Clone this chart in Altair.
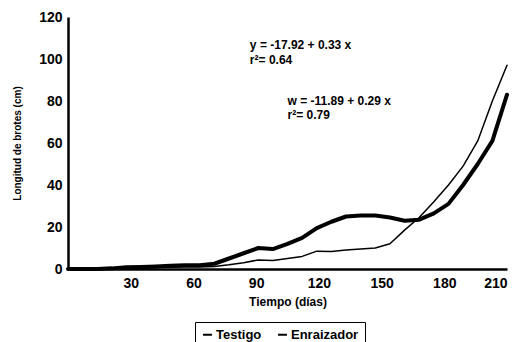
import altair as alt
import pandas as pd

# Sampling days (weekly) and shoot length (cm) for each treatment
dias = [0, 7, 14, 21, 28, 35, 42, 49, 56, 63, 70, 77, 84, 91, 98, 105,
        112, 119, 126, 133, 140, 147, 154, 161, 168, 175, 182, 189, 196, 203, 210]
testigo = [0, 0, 0, 0, 0.3, 0.5, 0.7, 0.8, 1, 1, 1.2, 2, 3, 4.3, 4, 5,
           6, 8.5, 8.3, 9, 9.5, 10, 12, 18.5, 24.5, 32, 40, 49, 61, 80, 97]
enraizador = [0, 0, 0, 0.3, 0.8, 1, 1.2, 1.5, 1.8, 1.8, 2.5, 5, 7.5, 10, 9.5, 12,
              14.8, 19.5, 22.5, 25, 25.5, 25.5, 24.5, 23, 23.5, 26.5, 31, 40, 50, 61, 83]
series = ["Testigo", "Enraizador"]

x_ticks = [30, 60, 90, 120, 150, 180, 210]
y_ticks = [0, 20, 40, 60, 80, 100, 120]

# Regression equations written on the plot
eq_text = ["y = -17.92 + 0.33 x", "r²= 0.64", "w = -11.89 + 0.29 x", "r²= 0.79"]
eq_x = [87, 87, 105, 105]
eq_y = [106.5, 99.5, 80, 73.2]

FONT = "Liberation Sans"
NBSP = "\u00a0" * 14  # keeps the legend box wide on the right

df = pd.DataFrame({
    "dia": dias * 2,
    "longitud": testigo + enraizador,
    "serie": [series[0]] * len(dias) + [series[1]] * len(dias),
})
eq_df = pd.DataFrame({"texto": eq_text, "dia": eq_x, "longitud": eq_y})

x_scale = alt.Scale(domain=[0, 210], nice=False)
y_scale = alt.Scale(domain=[0, 120], nice=False)

lines = alt.Chart(df).mark_line(strokeJoin="round", strokeCap="round").encode(
    x=alt.X("dia:Q", scale=x_scale,
            axis=alt.Axis(title="Tiempo (días)", values=x_ticks, ticks=False,
                          grid=False, labelPadding=7, titlePadding=6)),
    y=alt.Y("longitud:Q", scale=y_scale,
            axis=alt.Axis(title="Longitud de brotes (cm)", values=y_ticks, ticks=False,
                          grid=False, labelPadding=6, titlePadding=16)),
    color=alt.Color("serie:N",
                    scale=alt.Scale(domain=series, range=["black", "black"]),
                    legend=alt.Legend(title=None, orient="none", legendX=127, legendY=305,
                                      direction="horizontal", symbolType="stroke",
                                      symbolSize=80, symbolStrokeWidth=2,
                                      labelFont=FONT, labelFontSize=13,
                                      labelFontWeight="bold", labelColor="black",
                                      labelExpr=f"datum.label == 'Enraizador' ? datum.label + '{NBSP}' : datum.label",
                                      labelOffset=2, columnPadding=12,
                                      strokeColor="black", padding=6)),
    strokeWidth=alt.condition(alt.datum.serie == "Enraizador", alt.value(4), alt.value(1.5)),
)

labels = alt.Chart(eq_df).mark_text(
    align="left", baseline="middle", font=FONT, fontSize=12,
    fontWeight="bold", color="black"
).encode(
    x=alt.X("dia:Q", scale=x_scale),
    y=alt.Y("longitud:Q", scale=y_scale),
    text="texto:N",
)

chart = alt.layer(lines, labels).properties(
    width=439, height=252,
    autosize=alt.AutoSizeParams(type="none"),
    padding={"left": 68, "top": 17, "right": 16, "bottom": 73},
).configure_view(stroke=None).configure_axis(
    domainColor="black", domainWidth=2.5,
    labelFont=FONT, labelFontSize=14, labelFontWeight="bold", labelColor="black",
    titleFont=FONT, titleFontWeight="bold", titleColor="black",
).configure_axisX(titleFontSize=12).configure_axisY(titleFontSize=10)

chart.save("out.html", embed_options={"renderer": "svg", "actions": False})
